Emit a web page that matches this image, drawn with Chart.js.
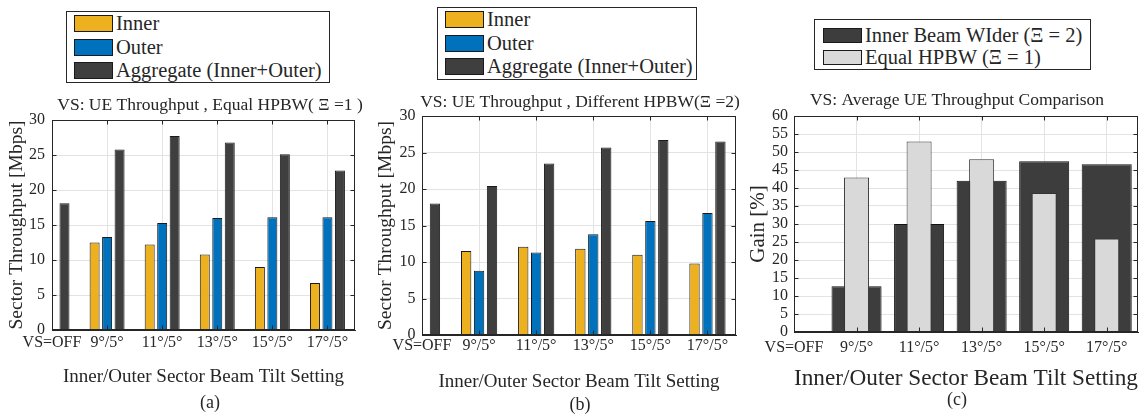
<!DOCTYPE html>
<html>
<head>
<meta charset="utf-8">
<script src="https://cdn.jsdelivr.net/npm/chart.js@4.4.0/dist/chart.umd.min.js"></script>
<style>
html, body { margin: 0; padding: 0; background: #fff; overflow: hidden; }
body { width: 1146px; height: 417px; position: relative; font-family: "Liberation Serif", serif; color: #262626; }
canvas { position: absolute; }
.legend { position: absolute; border: 1px solid #262626; background: #fff; box-sizing: border-box; }
.legend .row { display: flex; align-items: center; white-space: nowrap; }
.legend .sw { border: 1px solid #1a1a1a; box-sizing: border-box; margin-right: 3px; flex: none; }
</style>
</head>
<body>
<div class="legend" id="legA"></div>
<div class="legend" id="legB"></div>
<div class="legend" id="legC"></div>
<canvas id="chartA" width="420" height="332"></canvas>
<canvas id="chartB" width="420" height="332"></canvas>
<canvas id="chartC" width="434" height="332"></canvas>
<script>
"use strict";

// tilt settings on the x axis
const categories = ["VS=OFF", "9°/5°", "11°/5°", "13°/5°", "15°/5°", "17°/5°"];

// (a) equal HPBW, Mbps
const innerA = [null, 12.5, 12.2, 10.8, 9.0, 6.7];
const outerA = [null, 13.3, 15.3, 16.0, 16.1, 16.1];
const aggA   = [18.1, 25.8, 27.7, 26.8, 25.1, 22.8];

// (b) different HPBW, Mbps
const innerB = [null, 11.5, 12.1, 11.8, 11.0, 9.8];
const outerB = [null, 8.8, 11.3, 13.8, 15.6, 16.7];
const aggB   = [18.0, 20.4, 23.5, 25.7, 26.7, 26.5];

// (c) gain, %
const gainWider = [0.3, 12.7, 30.0, 42.0, 47.4, 46.6];
const gainEqual = [null, 42.9, 52.9, 48.0, 38.6, 26.0];

const FONT = "'Liberation Serif', 'DejaVu Serif', serif";
const INK = "#262626";
const GRID = "#e3e3e3";

function pts(arr) {
    return arr.map((v, i) => ({ x: i, y: v }));
}

// box around the axes plus inward tick marks, like the matlab look
const boxPlugin = {
    id: "box",
    afterDraw(chart) {
        const { ctx, chartArea: a, scales } = chart;
        const l = Math.round(a.left) + 0.5, r = Math.round(a.right) - 0.5;
        const t = Math.round(a.top) + 0.5, b = Math.round(a.bottom) - 0.5;
        ctx.save();
        ctx.strokeStyle = INK;
        ctx.lineWidth = 1;
        ctx.beginPath();
        scales.y.ticks.forEach(tk => {
            const y = Math.round(scales.y.getPixelForValue(tk.value)) + 0.5;
            ctx.moveTo(l, y); ctx.lineTo(l + 4, y);
            ctx.moveTo(r, y); ctx.lineTo(r - 4, y);
        });
        scales.x.ticks.forEach(tk => {
            const x = Math.round(scales.x.getPixelForValue(tk.value)) + 0.5;
            ctx.moveTo(x, b); ctx.lineTo(x, b - 4);
            ctx.moveTo(x, t); ctx.lineTo(x, t + 4);
        });
        ctx.stroke();
        ctx.strokeRect(l, t, r - l, b - t);
        ctx.restore();
    }
};

function htmlLegend(chart, el, cfg) {
    el.style.left = cfg.left + "px";
    el.style.top = cfg.top + "px";
    el.style.width = cfg.width + "px";
    el.style.height = cfg.height + "px";
    el.style.paddingTop = cfg.padTop + "px";
    el.style.paddingLeft = cfg.padLeft + "px";
    el.style.fontSize = cfg.fontSize + "px";
    chart.data.datasets.forEach(ds => {
        const row = document.createElement("div");
        row.className = "row";
        row.style.height = cfg.rowH + "px";
        const sw = document.createElement("span");
        sw.className = "sw";
        sw.style.width = cfg.swW + "px";
        sw.style.height = cfg.swH + "px";
        sw.style.background = ds.backgroundColor;
        const tx = document.createElement("span");
        tx.textContent = ds.label;
        row.append(sw, tx);
        el.append(row);
    });
}

function makeChart(id, p) {
    const cv = document.getElementById(id);
    cv.style.left = p.left + "px";
    cv.style.top = "85px";
    return new Chart(cv, {
        type: "bar",
        data: { datasets: p.datasets },
        plugins: [boxPlugin],
        options: {
            responsive: false,
            animation: false,
            layout: { padding: 0 },
            plugins: {
                legend: { display: false },
                tooltip: { enabled: false },
                title: {
                    display: true, text: p.title, color: INK,
                    font: { family: FONT, size: 17.5, weight: "normal", lineHeight: 1 },
                    padding: { top: p.titlePad[0], bottom: p.titlePad[1] }
                },
                subtitle: {
                    display: true, position: "bottom", text: p.caption, color: INK,
                    font: { family: FONT, size: 18, weight: "normal", lineHeight: 1 },
                    padding: { top: 0, bottom: p.capPad }
                }
            },
            scales: {
                x: {
                    type: "linear", min: 0, max: 5.5, offset: false,
                    grid: { color: GRID, drawTicks: false, offset: false },
                    border: { display: true, color: INK },
                    ticks: {
                        stepSize: 1, includeBounds: false, autoSkip: false, maxRotation: 0,
                        padding: p.xTickPad, color: INK,
                        font: { family: FONT, size: 16 },
                        callback: v => Number.isInteger(v) ? categories[v] : ""
                    },
                    title: {
                        display: true, text: "Inner/Outer Sector Beam Tilt Setting", color: INK,
                        font: { family: FONT, size: p.xTitleSize, lineHeight: 1 },
                        padding: { top: 0, bottom: p.xTitlePad }
                    },
                    afterFit: s => { s.height = p.xH; }
                },
                y: {
                    min: 0, max: p.yMax,
                    grid: { color: GRID, drawTicks: false },
                    border: { display: true, color: INK },
                    ticks: { stepSize: 5, autoSkip: false, padding: p.yTickPad, color: INK, font: { family: FONT, size: 16 } },
                    title: {
                        display: true, text: p.yTitle, color: INK,
                        font: { family: FONT, size: p.yTitleSize, lineHeight: 1.2 },
                        padding: { top: p.yTitlePad, bottom: 0 }
                    },
                    afterFit: s => { s.width = p.yW; }
                },
                // empty right axis, only reserves the space right of the box
                yPad: {
                    position: "right", display: true,
                    grid: { drawOnChartArea: false, drawTicks: false },
                    border: { display: false },
                    ticks: { display: false },
                    afterFit: s => { s.width = p.padRight; }
                }
            }
        }
    });
}

function sectorSets(inner, outer, agg) {
    const common = { borderColor: "#1a1a1a", borderWidth: 1, categoryPercentage: 0.68, barPercentage: 0.8 };
    return [
        Object.assign({ label: "Inner", data: pts(inner), backgroundColor: "#EDB120" }, common),
        Object.assign({ label: "Outer", data: pts(outer), backgroundColor: "#0072BD" }, common),
        Object.assign({ label: "Aggregate (Inner+Outer)", data: pts(agg), backgroundColor: "#3f3f3f" }, common)
    ];
}

const chartA = makeChart("chartA", {
    left: 0, padRight: 65, yW: 52, xH: 64,
    title: "VS: UE Throughput , Equal HPBW( Ξ =1 )", titlePad: [11.25, 6.25],
    caption: "(a)", capPad: 5,
    xTickPad: 3, xTitleSize: 19, xTitlePad: 7.5,
    yMax: 30, yTickPad: 7, yTitle: "Sector Throughput [Mbps]", yTitleSize: 19.5, yTitlePad: 5,
    datasets: sectorSets(innerA, outerA, aggA)
});

const chartB = makeChart("chartB", {
    left: 370, padRight: 54, yW: 52, xH: 61,
    title: "VS: UE Throughput , Different HPBW(Ξ =2)", titlePad: [8.25, 5.25],
    caption: "(b)", capPad: 3,
    xTickPad: 1, xTitleSize: 19, xTitlePad: 4.8,
    yMax: 30, yTickPad: 6.5, yTitle: "Sector Throughput [Mbps]", yTitleSize: 19.5, yTitlePad: 4,
    datasets: sectorSets(innerB, outerB, aggB)
});

const chartC = makeChart("chartC", {
    left: 740, padRight: 36, yW: 54, xH: 59,
    title: "VS: Average UE Throughput Comparison", titlePad: [6.25, 7.25],
    caption: "(c)", capPad: 8,
    xTickPad: 6, xTitleSize: 23.5, xTitlePad: 0,
    yMax: 60, yTickPad: 6, yTitle: "Gain [%]", yTitleSize: 21, yTitlePad: 6,
    datasets: [
        { label: "Inner Beam WIder (Ξ = 2)", data: pts(gainWider), backgroundColor: "#3d3d3d",
          borderColor: "#111", borderWidth: 1, grouped: false, order: 1,
          categoryPercentage: 1, barPercentage: 0.8 },
        { label: "Equal HPBW (Ξ = 1)", data: pts(gainEqual), backgroundColor: "#d9d9d9",
          borderColor: "#333", borderWidth: 1, grouped: false, order: 0,
          categoryPercentage: 1, barPercentage: 0.4 }
    ]
});

htmlLegend(chartA, document.getElementById("legA"),
    { left: 66, top: 11, width: 264, height: 72, padTop: 0, padLeft: 7, rowH: 23.5, swW: 39, swH: 17, fontSize: 20.5 });
htmlLegend(chartB, document.getElementById("legB"),
    { left: 437, top: 7, width: 260, height: 73, padTop: 0, padLeft: 7, rowH: 23.5, swW: 39, swH: 17, fontSize: 20.5 });
htmlLegend(chartC, document.getElementById("legC"),
    { left: 814, top: 19, width: 277, height: 51, padTop: 4, padLeft: 8, rowH: 22, swW: 39, swH: 15, fontSize: 20.5 });
</script>
</body>
</html>
